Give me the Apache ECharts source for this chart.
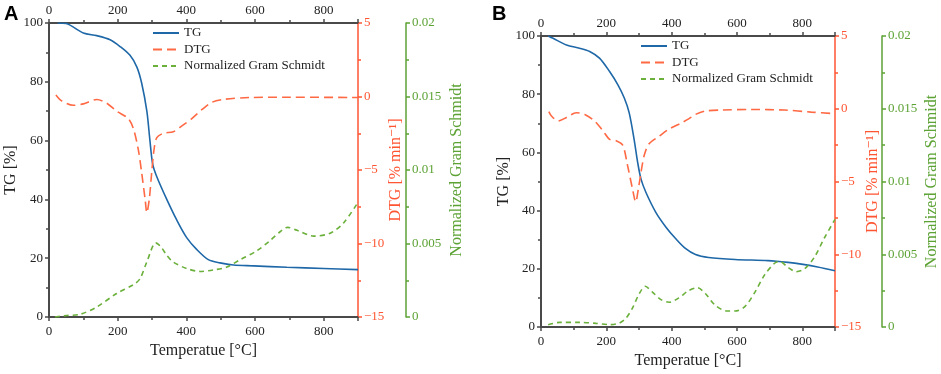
<!DOCTYPE html>
<html>
<head>
<meta charset="utf-8">
<script src="https://cdn.jsdelivr.net/npm/echarts@6/dist/echarts.min.js"></script>
<style>
  html, body { margin: 0; padding: 0; background: #fff; }
  #chart { width: 941px; height: 374px; }
</style>
</head>
<body>
<div id="chart"></div>
<script>
// Panel A - temperatures and values
const tgTempA = [25, 50, 100, 139, 178, 207, 236, 256, 270, 285, 294, 302, 314, 343, 372, 401, 430, 464, 498, 537, 596, 693, 800, 900];
const tgA = [100, 99.8, 96.6, 95.7, 94.3, 92, 89, 85, 79.5, 70, 60, 52, 47.7, 40, 33, 27, 23, 19.5, 18.4, 17.7, 17.4, 16.9, 16.5, 16.1];

const dtgTempA = [20, 37, 71, 100, 139, 168, 197, 231, 246, 260, 270, 280, 285, 292, 299, 306, 314, 333, 362, 387, 416, 445, 474, 508, 586, 700, 900];
const dtgA = [0.1, -0.3, -0.6, -0.5, -0.2, -0.45, -1.0, -1.5, -2.2, -3.6, -5.2, -7.0, -7.9, -7.0, -5.2, -3.6, -2.8, -2.5, -2.4, -2.0, -1.5, -0.9, -0.4, -0.2, -0.07, -0.05, -0.07];

const gsTempA = [17, 52, 90, 139, 197, 246, 265, 285, 311, 325, 343, 361, 401, 440, 479, 518, 557, 605, 644, 673, 695, 722, 771, 819, 858, 900];
const gsA = [0, 0.0001, 0.00018, 0.00068, 0.0016, 0.0022, 0.0026, 0.00375, 0.00504, 0.0048, 0.0042, 0.00375, 0.0033, 0.0031, 0.0032, 0.0034, 0.0039, 0.0045, 0.0052, 0.0058, 0.0061, 0.0059, 0.0055, 0.0057, 0.0064, 0.0078];

// Panel B
const tgTempB = [22, 37, 78, 118, 149, 179, 210, 235, 255, 270, 285, 296, 306, 321, 351, 382, 412, 442, 473, 513, 594, 695, 756, 797, 847, 900];
const tgB = [100, 99.2, 96.9, 95.8, 94.7, 92.4, 87.8, 83.3, 78.7, 73.6, 64.5, 56.5, 50.9, 46.3, 39.5, 34.4, 30.4, 27, 24.9, 23.9, 23.2, 22.8, 22.2, 21.6, 20.6, 19.3];

const dtgTempB = [24, 32, 53, 78, 108, 134, 164, 189, 210, 230, 250, 265, 280, 290, 298, 306, 316, 331, 361, 392, 432, 452, 473, 503, 554, 645, 746, 827, 900];
const dtgB = [-0.2, -0.5, -0.84, -0.6, -0.27, -0.39, -0.84, -1.5, -2.1, -2.2, -2.5, -3.9, -5.5, -6.4, -5.5, -4.4, -3.2, -2.4, -1.9, -1.4, -0.95, -0.7, -0.39, -0.16, -0.09, -0.05, -0.09, -0.23, -0.34];

const gsTempB = [22, 58, 118, 169, 210, 240, 260, 280, 301, 319, 341, 366, 392, 422, 452, 478, 503, 533, 569, 594, 624, 655, 685, 716, 731, 756, 781, 807, 837, 867, 900];
const gsB = [0.00016, 0.00032, 0.00032, 0.00025, 0.00016, 0.00027, 0.0006, 0.0013, 0.0023, 0.0028, 0.0024, 0.0019, 0.0017, 0.002, 0.0025, 0.0027, 0.0023, 0.0015, 0.0011, 0.0011, 0.0014, 0.0024, 0.0036, 0.0044, 0.0045, 0.0041, 0.0038, 0.004, 0.0048, 0.0061, 0.0074];

const seriesNames = ['TG', 'DTG', 'Normalized Gram Schmidt'];

const SERIF = '"Liberation Serif", "DejaVu Serif", serif';
const AXIS_GRAY = '#4a4a4a';
const BLUE = '#1f68a8';
const RED = '#ff6a45';
const RED_AXIS = '#ff5533';
const GREEN = '#6ab03a';
const GREEN_AXIS = '#5ca234';

const pairs = (xs, ys) => xs.map((x, i) => [x, ys[i]]);
const minus = v => String(v).replace('-', '\u2212');
const hide900 = v => (v === 900 ? '' : String(v));

function xAxes(grid) {
  const base = {
    type: 'value', gridIndex: grid, min: 0, max: 900, interval: 200,
    axisLine: { show: true, onZero: false, lineStyle: { color: AXIS_GRAY, width: 2 } },
    axisTick: { show: true, length: 4, lineStyle: { color: AXIS_GRAY, width: 1.5 } },
    minorTick: { show: true, splitNumber: 2, length: 3, lineStyle: { color: AXIS_GRAY, width: 1.5 } },
    axisLabel: { color: '#222', fontFamily: SERIF, fontSize: 13, formatter: hide900 },
    splitLine: { show: false }
  };
  return [
    Object.assign({}, base, {
      position: 'bottom',
      name: 'Temperatue [°C]', nameLocation: 'middle', nameGap: 26,
      nameTextStyle: { color: '#222', fontFamily: SERIF, fontSize: 16 },
      axisLabel: Object.assign({}, base.axisLabel, { margin: 8 })
    }),
    Object.assign({}, base, {
      position: 'top',
      axisLabel: Object.assign({}, base.axisLabel, { margin: 6 })
    })
  ];
}

function yAxes(grid, tgGap, dtgGap, gsOffset, gsGap) {
  return [
    {
      type: 'value', gridIndex: grid, position: 'left', min: 0, max: 100, interval: 20,
      name: 'TG [%]', nameLocation: 'middle', nameGap: tgGap, nameRotate: 90,
      nameTextStyle: { color: '#222', fontFamily: SERIF, fontSize: 16 },
      axisLine: { show: true, onZero: false, lineStyle: { color: AXIS_GRAY, width: 2 } },
      axisTick: { show: true, length: 4, lineStyle: { color: AXIS_GRAY, width: 1.5 } },
      minorTick: { show: true, splitNumber: 2, length: 3, lineStyle: { color: AXIS_GRAY, width: 1.5 } },
      axisLabel: { color: '#222', fontFamily: SERIF, fontSize: 13, margin: 6 },
      splitLine: { show: false }
    },
    {
      type: 'value', gridIndex: grid, position: 'right', min: -15, max: 5, interval: 5,
      name: 'DTG [% min\u207B\u00B9]', nameLocation: 'middle', nameGap: dtgGap, nameRotate: 90,
      nameTextStyle: { color: RED_AXIS, fontFamily: SERIF, fontSize: 16 },
      axisLine: { show: true, onZero: false, lineStyle: { color: RED_AXIS, width: 1.5 } },
      axisTick: { show: true, length: 4, lineStyle: { color: RED_AXIS, width: 1.5 } },
      minorTick: { show: true, splitNumber: 2, length: 3, lineStyle: { color: RED_AXIS, width: 1.5 } },
      axisLabel: { color: RED_AXIS, fontFamily: SERIF, fontSize: 13, margin: 6, formatter: minus },
      splitLine: { show: false }
    },
    {
      type: 'value', gridIndex: grid, position: 'right', offset: gsOffset, min: 0, max: 0.02, interval: 0.005,
      name: 'Normalized Gram Schmidt', nameLocation: 'middle', nameGap: gsGap, nameRotate: 90,
      nameTextStyle: { color: GREEN_AXIS, fontFamily: SERIF, fontSize: 16 },
      axisLine: { show: true, onZero: false, lineStyle: { color: GREEN_AXIS, width: 1.5 } },
      axisTick: { show: true, length: 4, lineStyle: { color: GREEN_AXIS, width: 1.5 } },
      minorTick: { show: true, splitNumber: 2, length: 3, lineStyle: { color: GREEN_AXIS, width: 1.5 } },
      axisLabel: { color: GREEN_AXIS, fontFamily: SERIF, fontSize: 13, margin: 6, formatter: v => String(+v.toFixed(3)) },
      splitLine: { show: false }
    }
  ];
}

function panelSeries(xIdx, yBase, tgT, tg, dtgT, dtg, gsT, gs) {
  const common = { type: 'line', symbol: 'none', showSymbol: false, smooth: 0.3, xAxisIndex: xIdx, z: 3 };
  return [
    Object.assign({}, common, {
      name: seriesNames[0], yAxisIndex: yBase, data: pairs(tgT, tg),
      itemStyle: { color: BLUE }, lineStyle: { color: BLUE, width: 1.6 }
    }),
    Object.assign({}, common, {
      name: seriesNames[1], yAxisIndex: yBase + 1, data: pairs(dtgT, dtg),
      itemStyle: { color: RED }, lineStyle: { color: RED, width: 1.6, type: [9, 5] }
    }),
    Object.assign({}, common, {
      name: seriesNames[2], yAxisIndex: yBase + 2, data: pairs(gsT, gs),
      itemStyle: { color: GREEN }, lineStyle: { color: GREEN, width: 1.6, type: [5, 4] }
    })
  ];
}

function legendAt(left, top) {
  return {
    data: seriesNames, orient: 'vertical', left: left, top: top, padding: 0,
    itemWidth: 26, itemHeight: 10, itemGap: 2.5,
    itemStyle: { opacity: 0 },
    textStyle: { color: '#222', fontFamily: SERIF, fontSize: 13, lineHeight: 14 },
    selectedMode: false
  };
}

const chart = echarts.init(document.getElementById('chart'), null, { renderer: 'canvas' });

chart.setOption({
  animation: false,
  grid: [
    { left: 49, right: 583, top: 23, bottom: 57 },
    { left: 541, right: 104, top: 36, bottom: 45 }
  ],
  legend: [legendAt(152, 26), legendAt(640, 39)],
  xAxis: xAxes(0).concat(xAxes(1)),
  yAxis: yAxes(0, 30, 18, 48, 43).concat(yAxes(1, 22, 18, 47, 42)),
  series: panelSeries(0, 0, tgTempA, tgA, dtgTempA, dtgA, gsTempA, gsA)
    .concat(panelSeries(2, 3, tgTempB, tgB, dtgTempB, dtgB, gsTempB, gsB)),
  graphic: [
    { type: 'text', left: 4, top: 4, style: { text: 'A', font: 'bold 20px "Liberation Sans", Arial, sans-serif', fill: '#000' } },
    { type: 'text', left: 492, top: 4, style: { text: 'B', font: 'bold 20px "Liberation Sans", Arial, sans-serif', fill: '#000' } }
  ]
});

window.addEventListener('resize', () => chart.resize());
</script>
</body>
</html>
